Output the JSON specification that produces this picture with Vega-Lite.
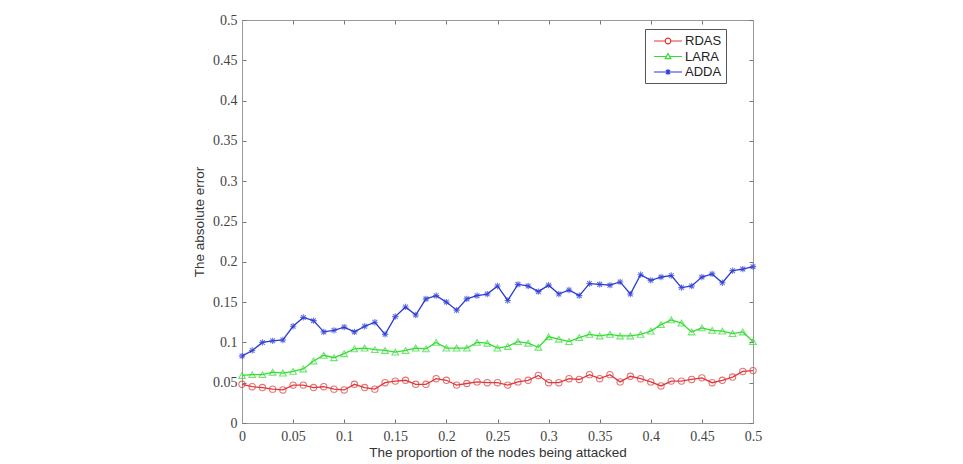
{
  "$schema": "https://vega.github.io/schema/vega-lite/v6.json",
  "autosize": "none",
  "width": 511,
  "height": 403,
  "padding": {"left": 242, "top": 20, "right": 210, "bottom": 41},
  "background": "white",
  "config": {"view": {"stroke": null}},
  "datasets": {
    "d": [
      {"x":0,"RDAS":0.048,"LARA":0.059,"ADDA":0.083},
      {"x":0.01,"RDAS":0.045,"LARA":0.060,"ADDA":0.090},
      {"x":0.02,"RDAS":0.044,"LARA":0.060,"ADDA":0.100},
      {"x":0.03,"RDAS":0.042,"LARA":0.063,"ADDA":0.102},
      {"x":0.04,"RDAS":0.041,"LARA":0.062,"ADDA":0.103},
      {"x":0.05,"RDAS":0.047,"LARA":0.064,"ADDA":0.120},
      {"x":0.06,"RDAS":0.047,"LARA":0.067,"ADDA":0.131},
      {"x":0.07,"RDAS":0.044,"LARA":0.077,"ADDA":0.127},
      {"x":0.08,"RDAS":0.045,"LARA":0.084,"ADDA":0.113},
      {"x":0.09,"RDAS":0.042,"LARA":0.081,"ADDA":0.115},
      {"x":0.10,"RDAS":0.041,"LARA":0.086,"ADDA":0.119},
      {"x":0.11,"RDAS":0.048,"LARA":0.092,"ADDA":0.113},
      {"x":0.12,"RDAS":0.044,"LARA":0.093,"ADDA":0.120},
      {"x":0.13,"RDAS":0.042,"LARA":0.091,"ADDA":0.125},
      {"x":0.14,"RDAS":0.050,"LARA":0.090,"ADDA":0.110},
      {"x":0.15,"RDAS":0.052,"LARA":0.088,"ADDA":0.132},
      {"x":0.16,"RDAS":0.053,"LARA":0.090,"ADDA":0.144},
      {"x":0.17,"RDAS":0.048,"LARA":0.093,"ADDA":0.134},
      {"x":0.18,"RDAS":0.048,"LARA":0.092,"ADDA":0.154},
      {"x":0.19,"RDAS":0.055,"LARA":0.100,"ADDA":0.158},
      {"x":0.20,"RDAS":0.053,"LARA":0.093,"ADDA":0.150},
      {"x":0.21,"RDAS":0.047,"LARA":0.093,"ADDA":0.140},
      {"x":0.22,"RDAS":0.049,"LARA":0.093,"ADDA":0.154},
      {"x":0.23,"RDAS":0.051,"LARA":0.100,"ADDA":0.158},
      {"x":0.24,"RDAS":0.050,"LARA":0.099,"ADDA":0.160},
      {"x":0.25,"RDAS":0.050,"LARA":0.093,"ADDA":0.170},
      {"x":0.26,"RDAS":0.047,"LARA":0.095,"ADDA":0.152},
      {"x":0.27,"RDAS":0.051,"LARA":0.101,"ADDA":0.172},
      {"x":0.28,"RDAS":0.053,"LARA":0.099,"ADDA":0.170},
      {"x":0.29,"RDAS":0.059,"LARA":0.094,"ADDA":0.163},
      {"x":0.30,"RDAS":0.050,"LARA":0.107,"ADDA":0.171},
      {"x":0.31,"RDAS":0.050,"LARA":0.104,"ADDA":0.160},
      {"x":0.32,"RDAS":0.055,"LARA":0.101,"ADDA":0.165},
      {"x":0.33,"RDAS":0.054,"LARA":0.106,"ADDA":0.158},
      {"x":0.34,"RDAS":0.060,"LARA":0.110,"ADDA":0.173},
      {"x":0.35,"RDAS":0.055,"LARA":0.108,"ADDA":0.172},
      {"x":0.36,"RDAS":0.060,"LARA":0.110,"ADDA":0.171},
      {"x":0.37,"RDAS":0.051,"LARA":0.108,"ADDA":0.175},
      {"x":0.38,"RDAS":0.058,"LARA":0.108,"ADDA":0.160},
      {"x":0.39,"RDAS":0.055,"LARA":0.110,"ADDA":0.184},
      {"x":0.40,"RDAS":0.051,"LARA":0.114,"ADDA":0.177},
      {"x":0.41,"RDAS":0.046,"LARA":0.122,"ADDA":0.181},
      {"x":0.42,"RDAS":0.052,"LARA":0.128,"ADDA":0.183},
      {"x":0.43,"RDAS":0.052,"LARA":0.124,"ADDA":0.168},
      {"x":0.44,"RDAS":0.054,"LARA":0.113,"ADDA":0.170},
      {"x":0.45,"RDAS":0.056,"LARA":0.118,"ADDA":0.181},
      {"x":0.46,"RDAS":0.050,"LARA":0.115,"ADDA":0.185},
      {"x":0.47,"RDAS":0.053,"LARA":0.114,"ADDA":0.174},
      {"x":0.48,"RDAS":0.057,"LARA":0.111,"ADDA":0.189},
      {"x":0.49,"RDAS":0.064,"LARA":0.113,"ADDA":0.191},
      {"x":0.50,"RDAS":0.065,"LARA":0.101,"ADDA":0.194}
    ]
  },
  "data": {"name": "d"},
  "transform": [{"fold": ["RDAS", "LARA", "ADDA"], "as": ["series", "y"]}],
  "resolve": {"axis": {"x": "independent", "y": "independent"}},
  "layer": [
    {
      "mark": {"type": "line", "strokeWidth": 1.3},
      "encoding": {
        "x": {"field": "x", "type": "quantitative",
          "scale": {"domain": [0, 0.5], "nice": false},
          "axis": {"orient": "bottom", "values": [0,0.05,0.1,0.15,0.2,0.25,0.3,0.35,0.4,0.45,0.5], "format": "~g",
            "title": "The proportion of the nodes being attacked", "titleFont": "Liberation Sans", "titleFontSize": 13.5, "titleFontWeight": "normal", "titleColor": "#333", "titlePadding": 2,
            "labelFont": "Liberation Serif", "labelFontSize": 14, "labelColor": "#444", "labelPadding": 10, "labelFlush": false,
            "grid": false, "tickSize": -4, "tickColor": "#777", "domainColor": "#999"}},
        "y": {"field": "y", "type": "quantitative",
          "scale": {"domain": [0, 0.5], "nice": false},
          "axis": {"orient": "left", "values": [0,0.05,0.1,0.15,0.2,0.25,0.3,0.35,0.4,0.45,0.5], "format": "~g",
            "title": "The absolute error", "titleFont": "Liberation Sans", "titleFontSize": 13.5, "titleFontWeight": "normal", "titleColor": "#333", "titlePadding": 6,
            "labelFont": "Liberation Serif", "labelFontSize": 14, "labelColor": "#444", "labelPadding": 9, "labelFlush": false,
            "grid": false, "tickSize": -4, "tickColor": "#777", "domainColor": "#999"}},
        "color": {"field": "series", "type": "nominal",
          "scale": {"domain": ["RDAS", "LARA", "ADDA"], "range": ["#e0383a", "#33dd33", "#2a3bd6"]},
          "legend": {"title": null, "orient": "none", "legendX": 403, "legendY": 9,
            "direction": "vertical", "fillColor": "white", "strokeColor": "#555", "padding": 4,
            "labelFont": "Liberation Sans", "labelFontSize": 13, "labelColor": "#222",
            "symbolSize": 196, "symbolOffset": 11, "symbolStrokeWidth": 1.2, "rowPadding": 0.5, "labelOffset": 9,
            "encode": {"symbols": {"update": {"shape": {"signal": "datum.value === 'RDAS' ? 'M-2,0H-0.4M0.4,0H2M-0.4,0A0.4,0.4 0 1,0 0.4,0A0.4,0.4 0 1,0 -0.4,0' : datum.value === 'LARA' ? 'M-2,0H-0.32M0.32,0H2M0,-0.42L0.4,0.3L-0.4,0.3Z' : 'M-2,0H2M0,-0.4V0.4M-0.3,-0.3L0.3,0.3M-0.3,0.3L0.3,-0.3'"}, "fill": {"value": "transparent"}}}}
          }}
      }
    },
    {
      "transform": [{"filter": "datum.series === 'RDAS'"}],
      "mark": {"type": "point", "shape": "circle", "filled": false, "size": 40, "strokeWidth": 1.1},
      "encoding": {
        "x": {"field": "x", "type": "quantitative", "axis": null},
        "y": {"field": "y", "type": "quantitative", "axis": null},
        "color": {"field": "series", "type": "nominal", "legend": null}
      }
    },
    {
      "transform": [{"filter": "datum.series === 'LARA'"}],
      "mark": {"type": "point", "shape": "triangle-up", "filled": false, "size": 45, "strokeWidth": 1.1},
      "encoding": {
        "x": {"field": "x", "type": "quantitative", "axis": null},
        "y": {"field": "y", "type": "quantitative", "axis": null},
        "color": {"field": "series", "type": "nominal", "legend": null}
      }
    },
    {
      "transform": [{"filter": "datum.series === 'ADDA'"}],
      "mark": {"type": "point", "shape": "M-1,0H1M0,-1V1M-0.75,-0.75L0.75,0.75M-0.75,0.75L0.75,-0.75", "filled": false, "size": 40, "strokeWidth": 1.1},
      "encoding": {
        "x": {"field": "x", "type": "quantitative", "axis": null},
        "y": {"field": "y", "type": "quantitative", "axis": null},
        "color": {"field": "series", "type": "nominal", "legend": null}
      }
    },
    {
      "mark": {"type": "line", "opacity": 0},
      "encoding": {
        "x": {"field": "x", "type": "quantitative",
          "axis": {"orient": "top", "values": [0,0.05,0.1,0.15,0.2,0.25,0.3,0.35,0.4,0.45,0.5], "labels": false, "title": null, "grid": false, "tickSize": -4, "tickColor": "#777", "domainColor": "#999"}},
        "y": {"field": "y", "type": "quantitative",
          "axis": {"orient": "right", "values": [0,0.05,0.1,0.15,0.2,0.25,0.3,0.35,0.4,0.45,0.5], "labels": false, "title": null, "grid": false, "tickSize": -4, "tickColor": "#777", "domainColor": "#999"}},
        "detail": {"field": "series"}
      }
    }
  ]
}
